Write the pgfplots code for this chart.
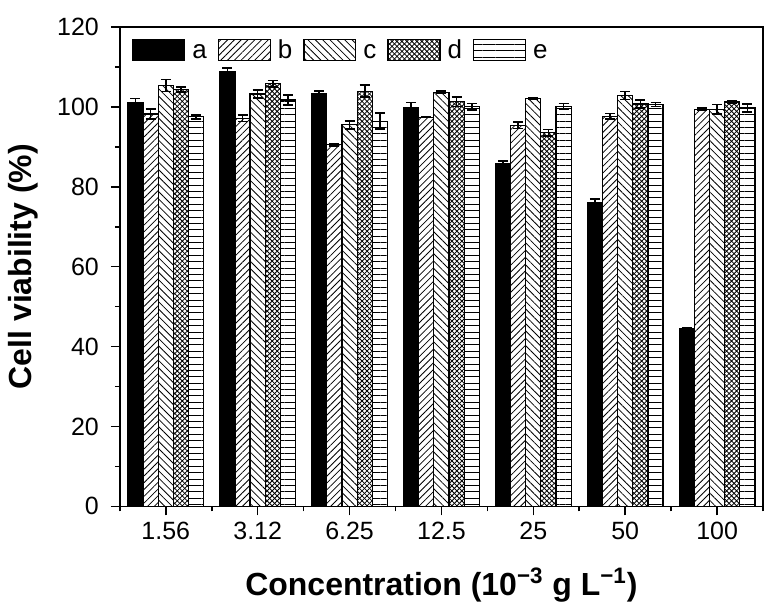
\documentclass[border=0pt]{standalone}
\usepackage{fontspec}
\setmainfont{Liberation Sans}
\usepackage{pgfplots}
\pgfplotsset{compat=1.18}
\usepackage{pgfplotstable}
\usetikzlibrary{patterns,patterns.meta}

\pgfdeclarepatternformonly{dcross}{\pgfpoint{-0.5pt}{-0.5pt}}{\pgfpoint{3pt}{3pt}}{\pgfpoint{2.5pt}{2.5pt}}{%
  \pgfsetlinewidth{0.4pt}%
  \pgfpathmoveto{\pgfpoint{0pt}{0pt}}\pgfpathlineto{\pgfpoint{2.5pt}{2.5pt}}%
  \pgfpathmoveto{\pgfpoint{0pt}{2.5pt}}\pgfpathlineto{\pgfpoint{2.5pt}{0pt}}%
  \pgfusepath{stroke}}

\pgfplotstableread{
x a ae b be c ce d de e ee
0 101.1 1.0 98.2 1.2 105.3 1.5 104.3 0.6 97.5 0.5
1 108.8 1.0 97.1 0.8 103.2 1.0 105.8 0.8 101.7 1.2
2 103.4 0.5 90.5 0.3 95.5 1.0 103.9 1.5 96.4 2.0
3 99.9 1.2 97.4 0.0 103.6 0.3 101.3 1.2 100.0 0.8
4 85.7 0.8 95.4 0.8 102.0 0.2 93.5 0.8 100.1 0.7
5 76.0 1.0 97.6 0.7 102.8 1.0 100.7 1.0 100.6 0.5
6 44.5 0.3 99.4 0.3 99.4 1.2 101.2 0.3 99.7 1.0
}\datatable

\begin{document}
\begin{tikzpicture}
\begin{axis}[
  scale only axis,
  width=322pt, height=240pt,
  xmin=-0.5, xmax=6.5, ymin=0, ymax=120,
  ybar=0pt, bar width=0.165,
  xtick={0,...,6},
  xticklabels={1.56,3.12,6.25,12.5,25,50,100},
  minor xtick={-0.5,0.5,...,6.5},
  ytick={0,20,...,120},
  minor ytick={10,30,...,110},
  tick align=outside,
  axis line style={line width=0.8pt},
  major tick length=4.5pt, minor tick length=2.5pt,
  every tick/.style={black, line width=0.8pt},
  xtick pos=bottom, ytick pos=left,
  tick label style={font=\fontsize{12.5}{14}\selectfont},
  yticklabel style={xshift=-2.5pt},
  /pgf/number format/assume math mode=true,
  xlabel={\bfseries Concentration (10\textsuperscript{−3} g L\textsuperscript{−1})},
  ylabel={\bfseries Cell viability (\%)},
  label style={font=\fontsize{16}{19}\selectfont},
  xlabel style={yshift=-7pt},
  ylabel style={yshift=2.5pt},
  legend columns=5,
  legend style={draw=none, fill=none, at={(0,1)}, anchor=north west,
    xshift=3pt, yshift=-3pt, font=\fontsize{13}{15}\selectfont,
    nodes={text height=1.7ex, text depth=0.2ex, inner sep=1.5pt},
    /tikz/every odd column/.append style={column sep=2pt},
    /tikz/every even column/.append style={column sep=4pt}},
  legend image code/.code={\draw[#1, line width=0.6pt] (0pt,-5.25pt) rectangle (26pt,5.25pt);},
  error bars/y dir=both, error bars/y explicit,
  error bars/error bar style={black, line width=0.8pt, solid},
  error bars/error mark options={rotate=90, black, mark size=2.5pt, line width=0.8pt},
  every axis plot/.append style={draw=black, line width=0.6pt},
]
\addplot[fill=black] table[x=x, y=a, y error=ae] {\datatable};
\addplot[pattern={Lines[angle=45, distance=2.4pt, line width=0.4pt]}] table[x=x, y=b, y error=be] {\datatable};
\addplot[pattern={Lines[angle=-45, distance=2.6pt, line width=0.4pt]}] table[x=x, y=c, y error=ce] {\datatable};
\addplot[pattern=dcross] table[x=x, y=d, y error=de] {\datatable};
\addplot[pattern={Lines[angle=0, distance=3.2pt, line width=0.4pt]}] table[x=x, y=e, y error=ee] {\datatable};
\legend{a,b,c,d,e}
\coordinate (bl) at (rel axis cs:0,0);
\coordinate (tr) at (rel axis cs:1,1);
\end{axis}
\path ([xshift=-60pt,yshift=-53.5pt]bl) rectangle ([xshift=8pt,yshift=13.5pt]tr);
\end{tikzpicture}
\end{document}
